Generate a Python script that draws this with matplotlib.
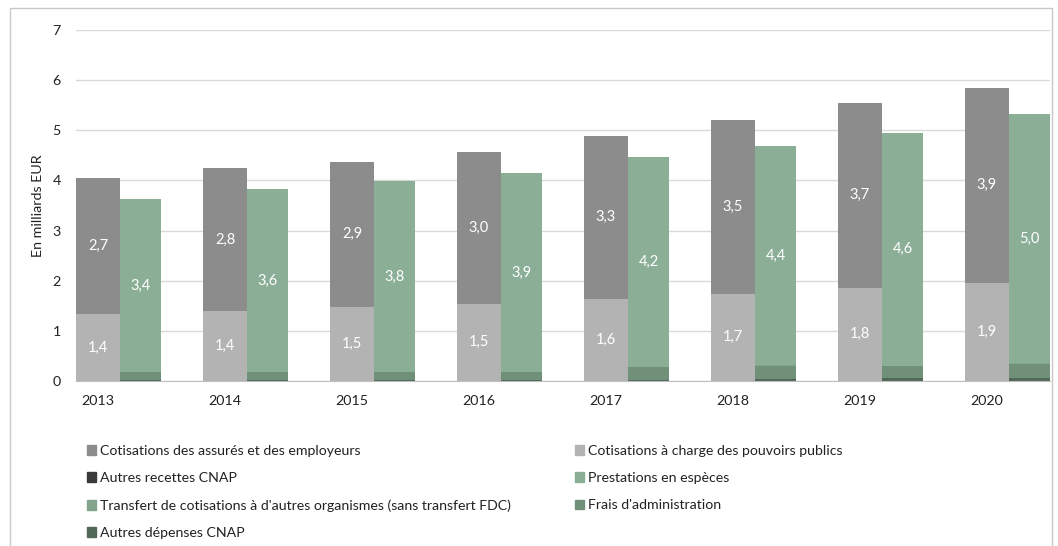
import matplotlib
matplotlib.use("Agg")
import matplotlib.pyplot as plt
from matplotlib.patches import Rectangle, Patch
import numpy as np

plt.rcParams['font.family'] = ['Lato', 'DejaVu Sans']

years = ["2013", "2014", "2015", "2016", "2017", "2018", "2019", "2020"]

# Recettes (milliards EUR)
cot_pouvoirs = [1.34, 1.40, 1.48, 1.54, 1.64, 1.74, 1.86, 1.96]
cot_assures = [2.71, 2.84, 2.89, 3.03, 3.25, 3.47, 3.69, 3.89]
autres_recettes = [0.002, 0.002, 0.002, 0.002, 0.002, 0.002, 0.002, 0.002]

# Dépenses (milliards EUR)
autres_depenses = [0.02, 0.02, 0.02, 0.02, 0.02, 0.03, 0.05, 0.05]
frais_admin = [0.15, 0.15, 0.15, 0.15, 0.25, 0.27, 0.24, 0.29]
transfert = [0.01, 0.01, 0.01, 0.01, 0.01, 0.01, 0.01, 0.01]
prestations = [3.45, 3.65, 3.81, 3.97, 4.19, 4.38, 4.65, 4.98]

lab_pouvoirs = ["1,4", "1,4", "1,5", "1,5", "1,6", "1,7", "1,8", "1,9"]
lab_assures = ["2,7", "2,8", "2,9", "3,0", "3,3", "3,5", "3,7", "3,9"]
lab_prest = ["3,4", "3,6", "3,8", "3,9", "4,2", "4,4", "4,6", "5,0"]

names = ["Cotisations des assurés et des employeurs",
         "Cotisations à charge des pouvoirs publics",
         "Autres recettes CNAP",
         "Prestations en espèces",
         "Transfert de cotisations à d'autres organismes (sans transfert FDC)",
         "Frais d'administration",
         "Autres dépenses CNAP"]
colors = {
    names[0]: "#8c8c8c",
    names[1]: "#b3b3b3",
    names[2]: "#3a3a3a",
    names[3]: "#8aae96",
    names[4]: "#82a48c",
    names[5]: "#71907a",
    names[6]: "#4f6857",
}

W, H = 1058, 546
fig = plt.figure(figsize=(W / 100, H / 100), dpi=100)
ax = fig.add_axes([76 / W, (H - 381) / H, (1050 - 76) / W, (381 - 30) / H])

x = np.arange(len(years))
wr = 0.346
we = 0.323
xr = x + wr / 2
xe = x + wr + we / 2

# revenue stack
b = np.zeros(len(years))
for vals, nm in [(cot_pouvoirs, names[1]), (cot_assures, names[0]), (autres_recettes, names[2])]:
    ax.bar(xr, vals, width=wr, bottom=b, color=colors[nm], zorder=2, linewidth=0)
    b = b + np.array(vals)
# expenditure stack
b2 = np.zeros(len(years))
for vals, nm in [(autres_depenses, names[6]), (frais_admin, names[5]), (transfert, names[4]), (prestations, names[3])]:
    ax.bar(xe, vals, width=we, bottom=b2, color=colors[nm], zorder=2, linewidth=0)
    b2 = b2 + np.array(vals)

lab_font = dict(color="white", fontsize=10.5, ha="center", va="center", zorder=3)
for i in range(len(years)):
    ax.text(xr[i], cot_pouvoirs[i] / 2, lab_pouvoirs[i], **lab_font)
    ax.text(xr[i], cot_pouvoirs[i] + cot_assures[i] / 2, lab_assures[i], **lab_font)
    base = autres_depenses[i] + frais_admin[i] + transfert[i]
    ax.text(xe[i], base + prestations[i] / 2, lab_prest[i], **lab_font)

ax.set_ylim(0, 7)
ax.set_xlim(0, (1050 - 76) / 127)
ax.set_yticks(range(0, 8))
ax.set_xticks(xr)
ax.set_xticklabels(years)
ax.tick_params(axis="both", length=0, labelsize=10.3, colors="#222222")
ax.tick_params(axis="y", pad=11)
ax.tick_params(axis="x", pad=10)
ax.yaxis.grid(True, color="#d9d9d9", linewidth=1, zorder=0)
ax.set_axisbelow(True)
for s in ["top", "right", "left"]:
    ax.spines[s].set_visible(False)
ax.spines["bottom"].set_color("#bfbfbf")
ax.spines["bottom"].set_zorder(4)
ax.set_ylabel("En milliards EUR", fontsize=10.3, color="#222222", labelpad=6)

order = [0, 2, 4, 6, 1, 3, 5]
handles = [Patch(color=colors[names[k]]) for k in order]
labels = [names[k] for k in order]
fig.legend(handles, labels, ncol=2, loc="upper left",
           bbox_to_anchor=(74 / W, 1 - 432 / H), frameon=False,
           fontsize=10.2, handlelength=0.65, handleheight=0.65,
           handletextpad=0.3, columnspacing=4.5, labelspacing=1.08,
           labelcolor="#222222")

fig.patches.append(Rectangle((10 / W, -0.01), (1052 - 10) / W, 1 - 8 / H + 0.01,
                             transform=fig.transFigure, fill=False,
                             edgecolor="#c8c8c8", linewidth=1))

fig.savefig("out.png", dpi=100, facecolor="white")
